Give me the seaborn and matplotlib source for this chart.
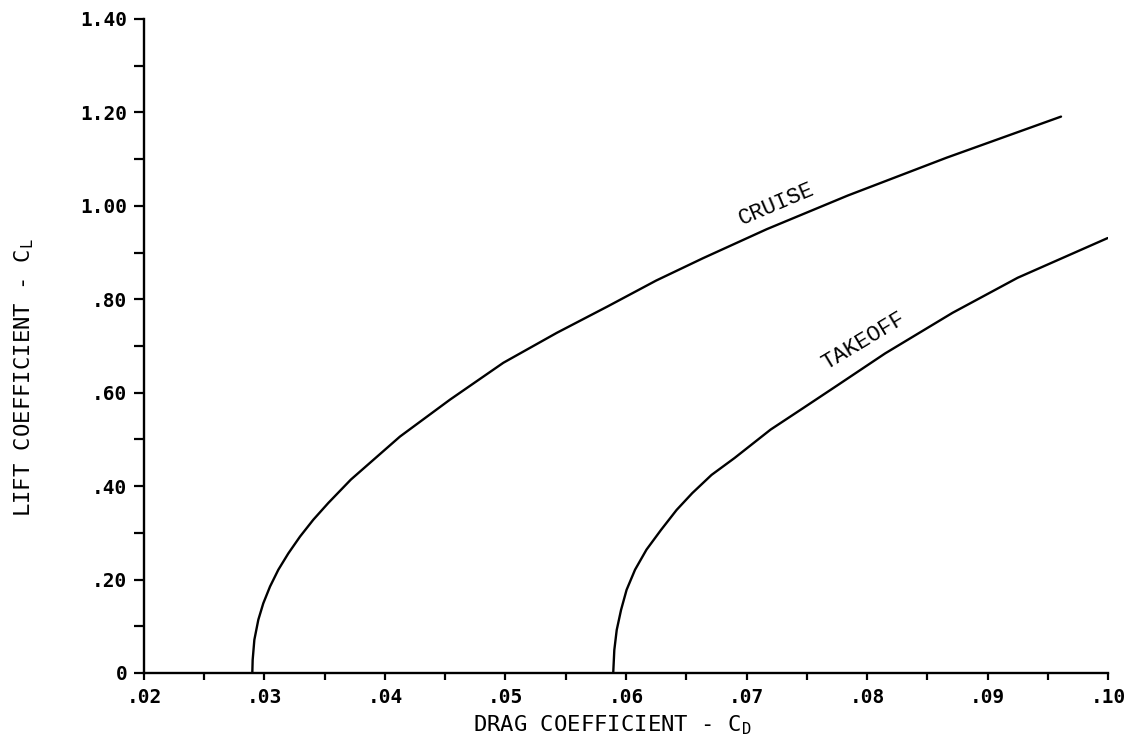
import numpy as np
import pandas as pd
import matplotlib
matplotlib.use("Agg")
import matplotlib.pyplot as plt
import seaborn as sns

# drag polar values
cruise_cd = [0.02899, 0.02902, 0.02916, 0.02949, 0.0299, 0.03046, 0.03115, 0.03198,
             0.03295, 0.03405, 0.0353, 0.03717, 0.04124, 0.04539, 0.04982, 0.05425,
             0.05850, 0.06250, 0.06640, 0.07168, 0.0784, 0.0866, 0.0961]
cruise_cl = [0.0, 0.028, 0.071, 0.114, 0.149, 0.185, 0.221, 0.256,
             0.292, 0.328, 0.364, 0.414, 0.506, 0.585, 0.664, 0.728,
             0.785, 0.840, 0.888, 0.950, 1.022, 1.103, 1.191]

takeoff_cd = [0.05894, 0.05903, 0.05923, 0.05959, 0.06005, 0.06075, 0.0617, 0.0629,
              0.0642, 0.0655, 0.0671, 0.0690, 0.0720, 0.0747, 0.0775, 0.0815, 0.0871,
              0.0925, 0.09997]
takeoff_cl = [0.0, 0.049, 0.092, 0.135, 0.178, 0.221, 0.264, 0.306,
              0.349, 0.385, 0.424, 0.460, 0.521, 0.567, 0.615, 0.684, 0.771,
              0.846, 0.931]

x_ticks = [0.02, 0.03, 0.04, 0.05, 0.06, 0.07, 0.08, 0.09, 0.10]
x_labels = [".02", ".03", ".04", ".05", ".06", ".07", ".08", ".09", ".10"]
y_ticks = [0.0, 0.2, 0.4, 0.6, 0.8, 1.0, 1.2, 1.4]
y_labels = ["0", ".20", ".40", ".60", ".80", "1.00", "1.20", "1.40"]

df = pd.DataFrame({
    "cd": cruise_cd + takeoff_cd,
    "cl": cruise_cl + takeoff_cl,
    "config": ["CRUISE"] * len(cruise_cd) + ["TAKEOFF"] * len(takeoff_cd),
})

sns.set_theme(style="ticks")
plt.rcParams["font.family"] = ["DejaVu Sans Mono", "DejaVu Sans"]
plt.rcParams["text.color"] = "black"

fig = plt.figure(figsize=(11.39, 7.47), dpi=100)
ax = fig.add_axes([0.1264, 0.0991, 0.8464, 0.8755])

sns.lineplot(data=df, x="cd", y="cl", hue="config", palette=["black", "black"],
             sort=False, estimator=None, linewidth=1.7, legend=False, ax=ax)

ax.set_xlim(0.02, 0.10)
ax.set_ylim(0, 1.40)
ax.set_xticks(x_ticks)
ax.set_xticklabels(x_labels, fontweight="bold")
ax.set_yticks(y_ticks)
ax.set_yticklabels(y_labels, fontweight="bold")
ax.set_xticks(np.arange(0.025, 0.10, 0.01), minor=True)
ax.set_yticks(np.arange(0.1, 1.4, 0.2), minor=True)
ax.tick_params(axis="x", which="both", direction="out", length=5, width=1.6,
               labelsize=14, colors="black", pad=6)
ax.tick_params(axis="y", which="both", direction="out", length=7, width=1.6,
               labelsize=14, colors="black", pad=5)

sns.despine(ax=ax)
for s in ["left", "bottom"]:
    ax.spines[s].set_linewidth(1.7)
    ax.spines[s].set_color("black")

ax.set_xlabel(r"DRAG COEFFICIENT - C$_\mathregular{D}$", fontsize=16, color="black")
ax.set_ylabel(r"LIFT COEFFICIENT - C$_\mathregular{L}$", fontsize=16, color="black")
ax.xaxis.set_label_coords(0.486, -0.062)
ax.yaxis.set_label_coords(-0.112, 0.451)

# curve labels
ax.text(0.0725, 1.003, "CRUISE", rotation=23, fontsize=16, ha="center", va="center",
        color="black", family=["Liberation Mono", "DejaVu Sans Mono"])
ax.text(0.0797, 0.711, "TAKEOFF", rotation=31, fontsize=16, ha="center", va="center",
        color="black", family=["Liberation Mono", "DejaVu Sans Mono"])

fig.savefig("out.png", dpi=100)
